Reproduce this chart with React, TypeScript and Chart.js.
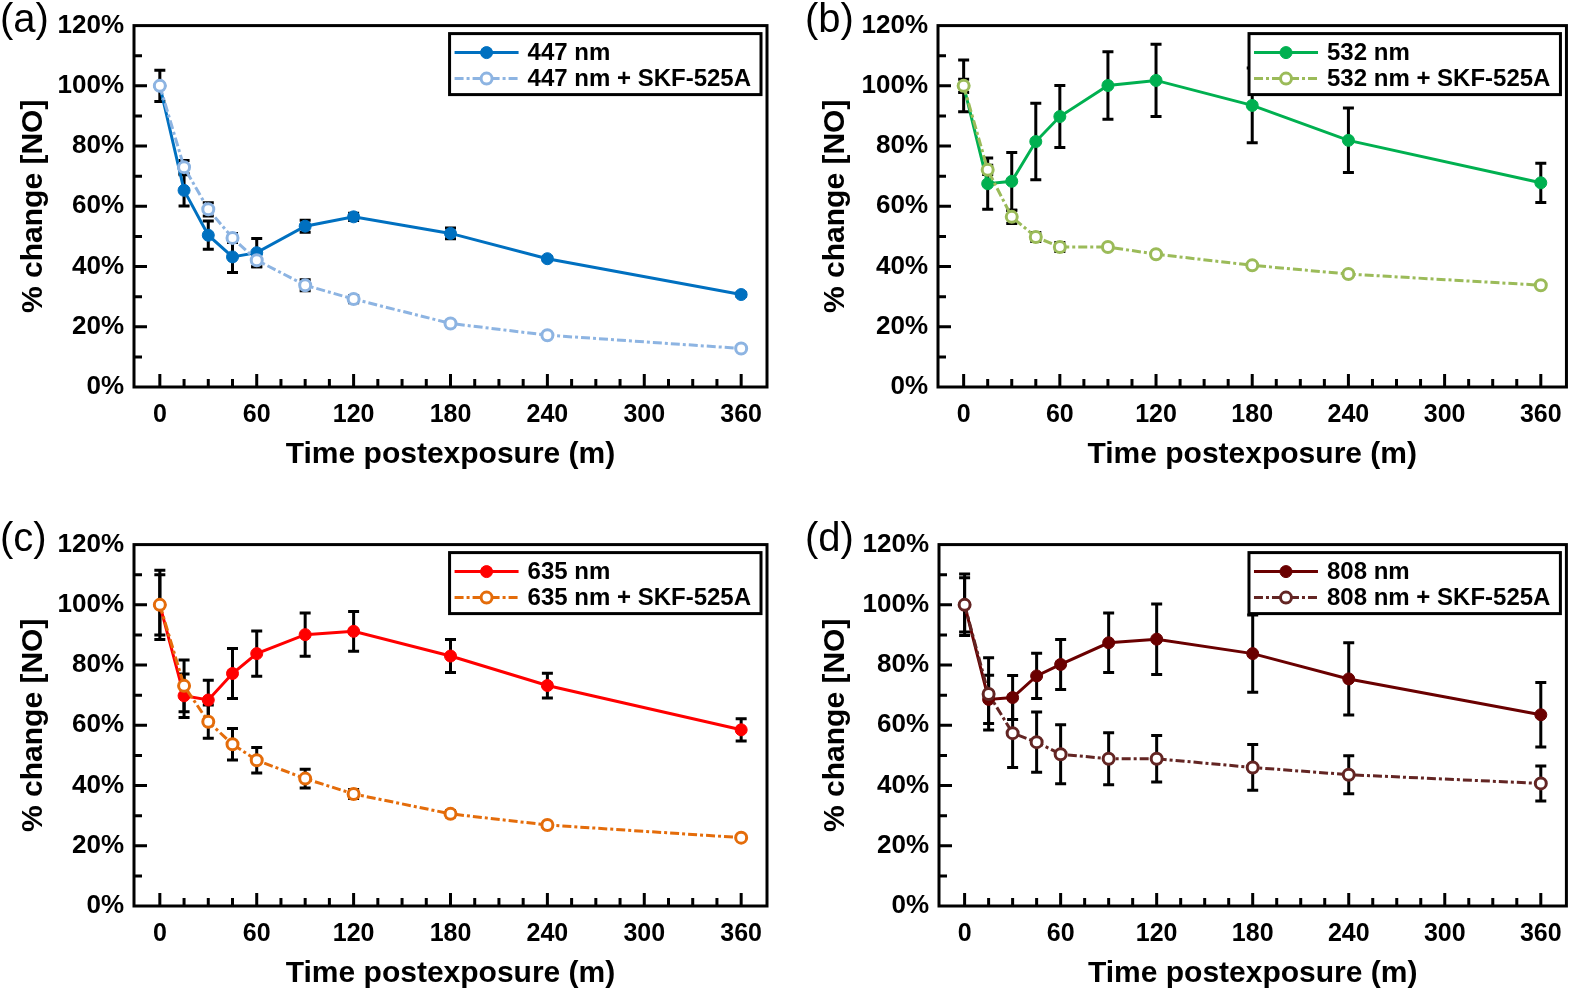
import React, { useEffect, useRef } from "react";
import { Chart, registerables } from "chart.js";

Chart.register(...registerables);

// ---------- DATA ----------
const timePoints = [0, 15, 30, 45, 60, 90, 120, 180, 240, 360];
const xTickValues = [0, 60, 120, 180, 240, 300, 360];
const yTickValues = [0, 20, 40, 60, 80, 100, 120];

const nm447 = [100, 65.3, 50.4, 43.2, 44.6, 53.4, 56.5, 51.0, 42.6, 30.7];
const nm447Err = [5.2, 5.2, 4.7, 5.2, 4.7, 2.0, 1.2, 1.8, 0.6, 0.6];
const nm447Skf = [100, 73.0, 59.0, 49.5, 42.1, 33.8, 29.2, 21.1, 17.2, 12.8];
const nm447SkfErr = [0, 2.2, 2.2, 1.5, 2.2, 1.8, 1.2, 1.0, 0.5, 0.3];

const nm532 = [100, 67.5, 68.3, 81.5, 89.8, 100.1, 101.8, 93.5, 81.9, 67.8];
const nm532Err = [8.6, 8.5, 9.6, 12.7, 10.3, 11.2, 12.0, 12.4, 10.7, 6.5];
const nm532Skf = [100, 72.1, 56.5, 49.8, 46.5, 46.5, 44.1, 40.4, 37.5, 33.8];
const nm532SkfErr = [2.2, 1.5, 2.2, 1.5, 1.5, 0.5, 0.5, 0.3, 0.3, 0.3];

const nm635 = [100, 69.8, 68.4, 77.2, 83.8, 90.1, 91.2, 83.0, 73.2, 58.5];
const nm635Err = [11.5, 7.2, 6.6, 8.3, 7.5, 7.2, 6.6, 5.5, 4.1, 3.7];
const nm635Skf = [100, 73.1, 61.2, 53.7, 48.4, 42.3, 37.2, 30.6, 26.9, 22.7];
const nm635SkfErr = [10, 8.6, 5.5, 5.2, 4.2, 3.1, 1.5, 1.0, 0.5, 0.3];

const nm808 = [100, 68.6, 69.2, 76.4, 80.2, 87.4, 88.6, 83.8, 75.4, 63.5];
const nm808Err = [10.2, 8.0, 7.3, 7.5, 8.3, 9.9, 11.7, 12.8, 12.0, 10.7];
const nm808Skf = [100, 70.4, 57.4, 54.4, 50.4, 48.9, 48.9, 46.0, 43.6, 40.7];
const nm808SkfErr = [9.0, 12.0, 11.4, 10.0, 9.8, 8.6, 7.7, 7.6, 6.3, 5.8];

const FONT = "'Liberation Sans', Arial, Helvetica, sans-serif";

type Series = { name: string; values: number[]; errors: number[]; color: string; open: boolean };
type Panel = {
  label: string;
  left: number;
  top: number;
  width: number;
  height: number;
  yWidth: number;
  padRight: number;
  yTitlePad: number;
  labelX: number;
  series: Series[];
};

const panels: Panel[] = [
  {
    label: "(a)", left: 0, top: 0, width: 787, height: 495, yWidth: 134, padRight: 20, yTitlePad: 16, labelX: 0,
    series: [
      { name: "447 nm", values: nm447, errors: nm447Err, color: "#0070C0", open: false },
      { name: "447 nm + SKF-525A", values: nm447Skf, errors: nm447SkfErr, color: "#8DB4E2", open: true },
    ],
  },
  {
    label: "(b)", left: 800, top: 0, width: 775, height: 495, yWidth: 138, padRight: 3, yTitlePad: 18, labelX: 5,
    series: [
      { name: "532 nm", values: nm532, errors: nm532Err, color: "#00B050", open: false },
      { name: "532 nm + SKF-525A", values: nm532Skf, errors: nm532SkfErr, color: "#9BBB59", open: true },
    ],
  },
  {
    label: "(c)", left: 0, top: 519, width: 787, height: 495, yWidth: 134, padRight: 20, yTitlePad: 16, labelX: 0,
    series: [
      { name: "635 nm", values: nm635, errors: nm635Err, color: "#FF0000", open: false },
      { name: "635 nm + SKF-525A", values: nm635Skf, errors: nm635SkfErr, color: "#E46C0A", open: true },
    ],
  },
  {
    label: "(d)", left: 800, top: 519, width: 775, height: 495, yWidth: 139, padRight: 3, yTitlePad: 18, labelX: 5,
    series: [
      { name: "808 nm", values: nm808, errors: nm808Err, color: "#6A0000", open: false },
      { name: "808 nm + SKF-525A", values: nm808Skf, errors: nm808SkfErr, color: "#632523", open: true },
    ],
  },
];

const SKF_DASH = [9, 3, 3, 3];

const decorPlugin = {
  id: "decor",
  beforeDatasetsDraw(chart: any, _args: any, opts: any) {
    const ctx = chart.ctx;
    const xs = chart.scales.x;
    const ys = chart.scales.y;
    ctx.save();
    ctx.strokeStyle = "#000";
    ctx.lineWidth = 3;
    ctx.lineCap = "butt";
    (opts.series as Series[]).forEach((s) => {
      s.values.forEach((v, i) => {
        const e = s.errors[i];
        if (!e) return;
        const px = xs.getPixelForValue(timePoints[i]);
        const yTop = ys.getPixelForValue(v + e);
        const yBot = ys.getPixelForValue(v - e);
        ctx.beginPath();
        ctx.moveTo(px, yTop);
        ctx.lineTo(px, yBot);
        ctx.moveTo(px - 5.5, yTop);
        ctx.lineTo(px + 5.5, yTop);
        ctx.moveTo(px - 5.5, yBot);
        ctx.lineTo(px + 5.5, yBot);
        ctx.stroke();
      });
    });
    ctx.restore();
  },
  afterDraw(chart: any, _args: any, opts: any) {
    const ctx = chart.ctx;
    const area = chart.chartArea;
    const xs = chart.scales.x;
    const ys = chart.scales.y;
    ctx.save();
    // frame
    ctx.strokeStyle = "#000";
    ctx.lineWidth = 3;
    ctx.strokeRect(area.left, area.top, area.right - area.left, area.bottom - area.top);
    // inward ticks
    ctx.beginPath();
    for (let v = 0; v <= 360; v += 15) {
      const px = xs.getPixelForValue(v);
      const len = v % 60 === 0 ? 13 : 8;
      ctx.moveTo(px, area.bottom);
      ctx.lineTo(px, area.bottom - len);
    }
    for (let v = 10; v < 120; v += 10) {
      const py = ys.getPixelForValue(v);
      const len = v % 20 === 0 ? 13 : 8;
      ctx.moveTo(area.left, py);
      ctx.lineTo(area.left + len, py);
    }
    ctx.stroke();

    // legend
    const series: Series[] = opts.series;
    ctx.font = `bold 24px ${FONT}`;
    let textW = 0;
    series.forEach((s) => (textW = Math.max(textW, ctx.measureText(s.name).width)));
    const boxW = 78 + textW + 10;
    const boxH = 61;
    const boxRight = area.right - 6;
    const boxLeft = boxRight - boxW;
    const boxTop = area.top + 8;
    ctx.fillStyle = "#fff";
    ctx.fillRect(boxLeft, boxTop, boxW, boxH);
    ctx.lineWidth = 3;
    ctx.strokeStyle = "#000";
    ctx.strokeRect(boxLeft, boxTop, boxW, boxH);
    series.forEach((s, i) => {
      const cy = boxTop + 19 + i * 26;
      ctx.save();
      ctx.strokeStyle = s.color;
      ctx.lineWidth = 3;
      ctx.setLineDash(s.open ? SKF_DASH : []);
      ctx.beginPath();
      ctx.moveTo(boxLeft + 5, cy);
      ctx.lineTo(boxLeft + 69, cy);
      ctx.stroke();
      ctx.setLineDash([]);
      ctx.beginPath();
      ctx.arc(boxLeft + 37, cy, s.open ? 5.5 : 6, 0, Math.PI * 2);
      ctx.fillStyle = s.open ? "#fff" : s.color;
      ctx.fill();
      ctx.lineWidth = s.open ? 3 : 1;
      ctx.stroke();
      ctx.restore();
      ctx.fillStyle = "#000";
      ctx.textBaseline = "middle";
      ctx.textAlign = "left";
      ctx.fillText(s.name, boxLeft + 78, cy + 1);
    });

    // panel label
    ctx.font = `40px ${FONT}`;
    ctx.fillStyle = "#000";
    ctx.textBaseline = "alphabetic";
    ctx.textAlign = "left";
    ctx.fillText(opts.label, opts.labelX, 32);
    ctx.restore();
  },
};

function PanelChart({ panel }: { panel: Panel }) {
  const ref = useRef<HTMLCanvasElement | null>(null);
  useEffect(() => {
    if (!ref.current) return;
    const datasets = panel.series.map((s) => ({
      label: s.name,
      data: timePoints.map((t, i) => ({ x: t, y: s.values[i] })),
      borderColor: s.color,
      backgroundColor: s.color,
      borderWidth: 3,
      borderDash: s.open ? SKF_DASH : [],
      pointRadius: s.open ? 5.5 : 6,
      pointBorderWidth: s.open ? 3 : 1,
      pointBackgroundColor: s.open ? "#ffffff" : s.color,
      pointBorderColor: s.color,
      tension: 0,
      fill: false,
      order: s.open ? 0 : 1,
      clip: false as any,
    }));
    const chart = new Chart(ref.current, {
      type: "line",
      data: { datasets },
      plugins: [decorPlugin as any],
      options: {
        responsive: false,
        animation: false,
        layout: { padding: { top: 25, right: panel.padRight, left: 0, bottom: 0 } },
        plugins: {
          legend: { display: false },
          tooltip: { enabled: false },
          decor: { series: panel.series, label: panel.label, labelX: panel.labelX },
        } as any,
        scales: {
          x: {
            type: "linear",
            min: -16,
            max: 376,
            afterBuildTicks: (s: any) => {
              s.ticks = xTickValues.map((v) => ({ value: v }));
            },
            afterFit: (s: any) => {
              s.height = 108;
            },
            grid: { display: false, drawTicks: false },
            border: { display: false },
            ticks: {
              color: "#000",
              font: { family: FONT, size: 25, weight: "bold" },
              padding: 13,
              maxRotation: 0,
              autoSkip: false,
            },
            title: {
              display: true,
              text: "Time postexposure (m)",
              color: "#000",
              font: { family: FONT, size: 30, weight: "bold", lineHeight: 1.2 },
              padding: { top: 0, bottom: 22 },
            },
          },
          y: {
            type: "linear",
            min: 0,
            max: 120,
            afterBuildTicks: (s: any) => {
              s.ticks = yTickValues.map((v) => ({ value: v }));
            },
            afterFit: (s: any) => {
              s.width = panel.yWidth;
            },
            grid: { display: false, drawTicks: false },
            border: { display: false },
            ticks: {
              color: "#000",
              font: { family: FONT, size: 26, weight: "bold" },
              padding: 10,
              callback: (v: any) => `${v}%`,
            },
            title: {
              display: true,
              text: "% change [NO]",
              color: "#000",
              font: { family: FONT, size: 30, weight: "bold", lineHeight: 1.2 },
              padding: { top: panel.yTitlePad, bottom: 0 },
            },
          },
        },
      } as any,
    });
    return () => chart.destroy();
  }, [panel]);
  return (
    <canvas
      ref={ref}
      width={panel.width}
      height={panel.height}
      style={{
        position: "absolute",
        left: panel.left,
        top: panel.top,
        width: panel.width,
        height: panel.height,
      }}
    />
  );
}

export default function App() {
  return (
    <div
      style={{
        position: "fixed",
        left: 0,
        top: 0,
        width: 1575,
        height: 991,
        overflow: "hidden",
        background: "#fff",
      }}
    >
      {panels.map((p) => (
        <PanelChart key={p.label} panel={p} />
      ))}
    </div>
  );
}
